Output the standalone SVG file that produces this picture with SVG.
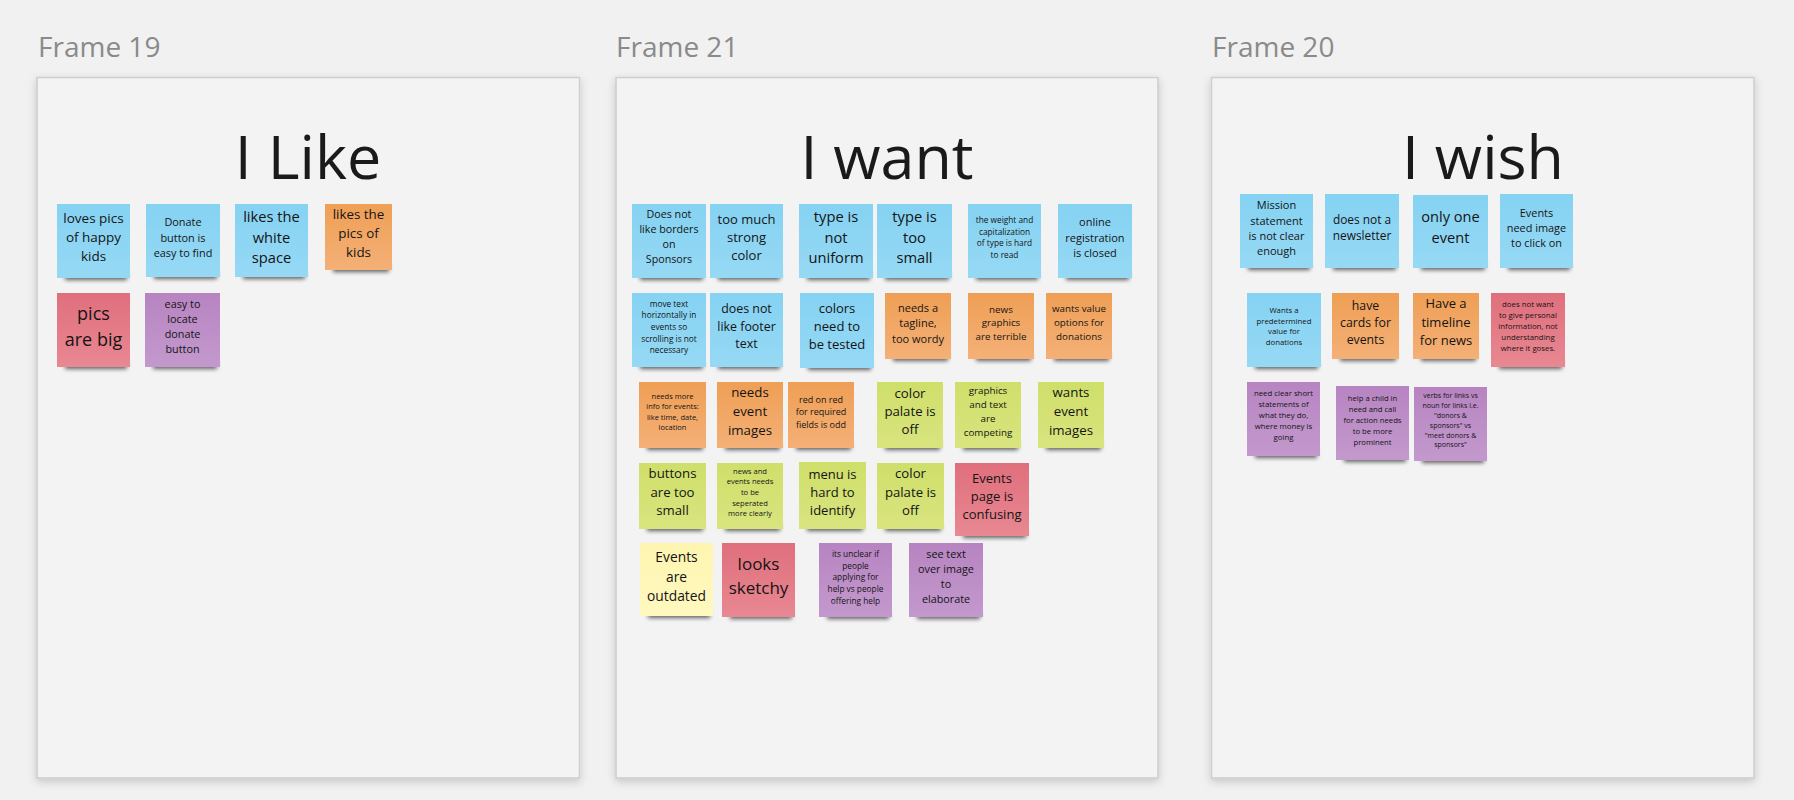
<svg xmlns="http://www.w3.org/2000/svg" width="1794" height="800" viewBox="0 0 1794 800">
<defs>
<linearGradient id="gBlue" x1="0" y1="0" x2="0" y2="1"><stop offset="0" stop-color="#85d2f2"/><stop offset="1" stop-color="#96d9f5"/></linearGradient>
<linearGradient id="gOrange" x1="0" y1="0" x2="0" y2="1"><stop offset="0" stop-color="#ef9f55"/><stop offset="1" stop-color="#f4b077"/></linearGradient>
<linearGradient id="gRed" x1="0" y1="0" x2="0" y2="1"><stop offset="0" stop-color="#e06f7d"/><stop offset="1" stop-color="#e88892"/></linearGradient>
<linearGradient id="gPurple" x1="0" y1="0" x2="0" y2="1"><stop offset="0" stop-color="#b784c1"/><stop offset="1" stop-color="#c399cd"/></linearGradient>
<linearGradient id="gGreen" x1="0" y1="0" x2="0" y2="1"><stop offset="0" stop-color="#cfdf6a"/><stop offset="1" stop-color="#d9e47f"/></linearGradient>
<linearGradient id="gYellow" x1="0" y1="0" x2="0" y2="1"><stop offset="0" stop-color="#fef5b0"/><stop offset="1" stop-color="#fff8bf"/></linearGradient>
<filter id="fShadow" x="-10%" y="-10%" width="120%" height="120%"><feDropShadow dx="0" dy="3" stdDeviation="4" flood-color="#000" flood-opacity="0.18"/></filter>
<filter id="sBlur" x="-20%" y="-100%" width="140%" height="300%"><feGaussianBlur stdDeviation="2"/></filter>
</defs>
<style>
.frame{fill:#f3f3f3;stroke:#cdcdcd;stroke-width:1.5;filter:url(#fShadow)}
.flabel{font-family:'Open Sans','Noto Sans',sans-serif;font-size:28px;fill:#8a8a8a}
.title{font-family:'Open Sans','Noto Sans',sans-serif;font-size:61px;fill:#1a1a1a;text-anchor:middle}
.sh{fill:#000;opacity:0.6;filter:url(#sBlur)}
.blue{fill:url(#gBlue)}
.orange{fill:url(#gOrange)}
.red{fill:url(#gRed)}
.purple{fill:url(#gPurple)}
.green{fill:url(#gGreen)}
.yellow{fill:url(#gYellow)}
.t{font-family:'Open Sans','Noto Sans',sans-serif;fill:#141414;text-anchor:middle;dominant-baseline:central;transform:translateY(-2px)}
.t tspan{dominant-baseline:central}
</style>
<rect x="0" y="0" width="1794" height="800" fill="#f1f1f1"/>

<g id="frame19">
<rect class="frame" x="37" y="77.5" width="542.5" height="700.5"/>
<text class="flabel" x="38" y="57">Frame 19</text>
<text class="title" x="308" y="179">I Like</text>
</g>
<g id="frame21">
<rect class="frame" x="616" y="77.5" width="542" height="700.5"/>
<text class="flabel" x="616" y="57">Frame 21</text>
<text class="title" x="887" y="179">I want</text>
</g>
<g id="frame20">
<rect class="frame" x="1211.5" y="77.5" width="542.5" height="700.5"/>
<text class="flabel" x="1212" y="57">Frame 20</text>
<text class="title" x="1483" y="179">I wish</text>
</g>

<!-- Frame 19 stickies -->
<g id="s1"><rect class="sh" x="65" y="272" width="62" height="8"/><rect class="blue" x="57" y="204" width="73" height="74"/>
<text class="t" x="93.5" y="239" font-size="13.5"><tspan x="93.5" dy="-1.4em">loves pics</tspan><tspan x="93.5" dy="1.4em">of happy</tspan><tspan x="93.5" dy="1.4em">kids</tspan></text></g>
<g id="s2"><rect class="sh" x="154" y="271" width="63" height="8"/><rect class="blue" x="146" y="204" width="74" height="73"/>
<text class="t" x="183" y="238.5" font-size="10.9"><tspan x="183" dy="-1.4em">Donate</tspan><tspan x="183" dy="1.4em">button is</tspan><tspan x="183" dy="1.4em">easy to find</tspan></text></g>
<g id="s3"><rect class="sh" x="243" y="271" width="62" height="8"/><rect class="blue" x="235" y="204" width="73" height="73"/>
<text class="t" x="271.5" y="238.5" font-size="14.7"><tspan x="271.5" dy="-1.4em">likes the</tspan><tspan x="271.5" dy="1.4em">white</tspan><tspan x="271.5" dy="1.4em">space</tspan></text></g>
<g id="s4"><rect class="sh" x="333" y="264" width="56" height="8"/><rect class="orange" x="325" y="204" width="67" height="66"/>
<text class="t" x="358.5" y="235" font-size="13.4"><tspan x="358.5" dy="-1.4em">likes the</tspan><tspan x="358.5" dy="1.4em">pics of</tspan><tspan x="358.5" dy="1.4em">kids</tspan></text></g>
<g id="s5"><rect class="sh" x="65" y="361" width="62" height="8"/><rect class="red" x="57" y="293" width="73" height="74"/>
<text class="t" x="93.5" y="328" font-size="18"><tspan x="93.5" dy="-0.7em">pics</tspan><tspan x="93.5" dy="1.4em">are big</tspan></text></g>
<g id="s6"><rect class="sh" x="153" y="361" width="64" height="8"/><rect class="purple" x="145" y="293" width="75" height="74"/>
<text class="t" x="182.5" y="327.7" font-size="10.8"><tspan x="182.5" dy="-2.1em">easy to</tspan><tspan x="182.5" dy="1.4em">locate</tspan><tspan x="182.5" dy="1.4em">donate</tspan><tspan x="182.5" dy="1.4em">button</tspan></text></g>

<!-- Frame 21 stickies -->
<g id="s7"><rect class="sh" x="640" y="272" width="63" height="8"/><rect class="blue" x="632" y="204" width="74" height="74"/>
<text class="t" x="669" y="238.5" font-size="10.7"><tspan x="669" dy="-2.1em">Does not</tspan><tspan x="669" dy="1.4em">like borders</tspan><tspan x="669" dy="1.4em">on</tspan><tspan x="669" dy="1.4em">Sponsors</tspan></text></g>
<g id="s8"><rect class="sh" x="718" y="272" width="62" height="8"/><rect class="blue" x="710" y="204" width="73" height="74"/>
<text class="t" x="746.5" y="239" font-size="13"><tspan x="746.5" dy="-1.4em">too much</tspan><tspan x="746.5" dy="1.4em">strong</tspan><tspan x="746.5" dy="1.4em">color</tspan></text></g>
<g id="s9"><rect class="sh" x="807" y="272" width="63" height="8"/><rect class="blue" x="799" y="204" width="74" height="74"/>
<text class="t" x="836" y="238.7" font-size="14.7"><tspan x="836" dy="-1.4em">type is</tspan><tspan x="836" dy="1.4em">not</tspan><tspan x="836" dy="1.4em">uniform</tspan></text></g>
<g id="s10"><rect class="sh" x="885" y="272" width="64" height="8"/><rect class="blue" x="877" y="204" width="75" height="74"/>
<text class="t" x="914.5" y="238.7" font-size="14.7"><tspan x="914.5" dy="-1.4em">type is</tspan><tspan x="914.5" dy="1.4em">too</tspan><tspan x="914.5" dy="1.4em">small</tspan></text></g>
<g id="s11"><rect class="sh" x="976" y="272" width="62" height="8"/><rect class="blue" x="968" y="204" width="73" height="74"/>
<text class="t" x="1004.5" y="238.5" font-size="8.3"><tspan x="1004.5" dy="-2.1em">the weight and</tspan><tspan x="1004.5" dy="1.4em">capitalization</tspan><tspan x="1004.5" dy="1.4em">of type is hard</tspan><tspan x="1004.5" dy="1.4em">to read</tspan></text></g>
<g id="s12"><rect class="sh" x="1066" y="272" width="63" height="8"/><rect class="blue" x="1058" y="204" width="74" height="74"/>
<text class="t" x="1095" y="238.5" font-size="11"><tspan x="1095" dy="-1.4em">online</tspan><tspan x="1095" dy="1.4em">registration</tspan><tspan x="1095" dy="1.4em">is closed</tspan></text></g>

<g id="s13"><rect class="sh" x="640" y="361" width="63" height="8"/><rect class="blue" x="632" y="293" width="74" height="74"/>
<text class="t" x="669" y="328" font-size="8.3"><tspan x="669" dy="-2.8em">move text</tspan><tspan x="669" dy="1.4em">horizontally in</tspan><tspan x="669" dy="1.4em">events so</tspan><tspan x="669" dy="1.4em">scrolling is not</tspan><tspan x="669" dy="1.4em">necessary</tspan></text></g>
<g id="s14"><rect class="sh" x="718" y="361" width="62" height="8"/><rect class="blue" x="710" y="293" width="73" height="74"/>
<text class="t" x="746.5" y="327.8" font-size="12.4"><tspan x="746.5" dy="-1.4em">does not</tspan><tspan x="746.5" dy="1.4em">like footer</tspan><tspan x="746.5" dy="1.4em">text</tspan></text></g>
<g id="s15"><rect class="sh" x="808" y="362" width="63" height="8"/><rect class="blue" x="800" y="293" width="74" height="75"/>
<text class="t" x="837" y="327.7" font-size="13"><tspan x="837" dy="-1.4em">colors</tspan><tspan x="837" dy="1.4em">need to</tspan><tspan x="837" dy="1.4em">be tested</tspan></text></g>
<g id="s16"><rect class="sh" x="893" y="353" width="55" height="8"/><rect class="orange" x="885" y="293" width="66" height="66"/>
<text class="t" x="918" y="324.3" font-size="11"><tspan x="918" dy="-1.4em">needs a</tspan><tspan x="918" dy="1.4em">tagline,</tspan><tspan x="918" dy="1.4em">too wordy</tspan></text></g>
<g id="s17"><rect class="sh" x="976" y="353" width="55" height="8"/><rect class="orange" x="968" y="293" width="66" height="66"/>
<text class="t" x="1001" y="324.3" font-size="9.8"><tspan x="1001" dy="-1.4em">news</tspan><tspan x="1001" dy="1.4em">graphics</tspan><tspan x="1001" dy="1.4em">are terrible</tspan></text></g>
<g id="s18"><rect class="sh" x="1054" y="353" width="55" height="8"/><rect class="orange" x="1046" y="293" width="66" height="66"/>
<text class="t" x="1079" y="324" font-size="9.8"><tspan x="1079" dy="-1.4em">wants value</tspan><tspan x="1079" dy="1.4em">options for</tspan><tspan x="1079" dy="1.4em">donations</tspan></text></g>

<g id="s19"><rect class="sh" x="647" y="442" width="56" height="8"/><rect class="orange" x="639" y="382" width="67" height="66"/>
<text class="t" x="672.5" y="413.5" font-size="7.5"><tspan x="672.5" dy="-2.1em">needs more</tspan><tspan x="672.5" dy="1.4em">info for events:</tspan><tspan x="672.5" dy="1.4em">like time, date,</tspan><tspan x="672.5" dy="1.4em">location</tspan></text></g>
<g id="s20"><rect class="sh" x="725" y="442" width="55" height="8"/><rect class="orange" x="717" y="382" width="66" height="66"/>
<text class="t" x="750" y="413" font-size="13.3"><tspan x="750" dy="-1.4em">needs</tspan><tspan x="750" dy="1.4em">event</tspan><tspan x="750" dy="1.4em">images</tspan></text></g>
<g id="s21"><rect class="sh" x="796" y="442" width="55" height="8"/><rect class="orange" x="788" y="382" width="66" height="66"/>
<text class="t" x="821" y="413.3" font-size="9"><tspan x="821" dy="-1.4em">red on red</tspan><tspan x="821" dy="1.4em">for required</tspan><tspan x="821" dy="1.4em">fields is odd</tspan></text></g>
<g id="s22"><rect class="sh" x="885" y="442" width="55" height="8"/><rect class="green" x="877" y="382" width="66" height="66"/>
<text class="t" x="910" y="413" font-size="13.2"><tspan x="910" dy="-1.4em">color</tspan><tspan x="910" dy="1.4em">palate is</tspan><tspan x="910" dy="1.4em">off</tspan></text></g>
<g id="s23"><rect class="sh" x="963" y="442" width="55" height="8"/><rect class="green" x="955" y="382" width="66" height="66"/>
<text class="t" x="988" y="413" font-size="9.8"><tspan x="988" dy="-2.1em">graphics</tspan><tspan x="988" dy="1.4em">and text</tspan><tspan x="988" dy="1.4em">are</tspan><tspan x="988" dy="1.4em">competing</tspan></text></g>
<g id="s24"><rect class="sh" x="1046" y="442" width="55" height="8"/><rect class="green" x="1038" y="382" width="66" height="66"/>
<text class="t" x="1071" y="413" font-size="13.3"><tspan x="1071" dy="-1.4em">wants</tspan><tspan x="1071" dy="1.4em">event</tspan><tspan x="1071" dy="1.4em">images</tspan></text></g>

<g id="s25"><rect class="sh" x="647" y="523" width="56" height="8"/><rect class="green" x="639" y="463" width="67" height="66"/>
<text class="t" x="672.5" y="493.7" font-size="13.2"><tspan x="672.5" dy="-1.4em">buttons</tspan><tspan x="672.5" dy="1.4em">are too</tspan><tspan x="672.5" dy="1.4em">small</tspan></text></g>
<g id="s26"><rect class="sh" x="725" y="523" width="55" height="8"/><rect class="green" x="717" y="463" width="66" height="66"/>
<text class="t" x="750" y="494" font-size="7.6"><tspan x="750" dy="-2.8em">news and</tspan><tspan x="750" dy="1.4em">events needs</tspan><tspan x="750" dy="1.4em">to be</tspan><tspan x="750" dy="1.4em">seperated</tspan><tspan x="750" dy="1.4em">more clearly</tspan></text></g>
<g id="s27"><rect class="sh" x="807" y="523" width="56" height="8"/><rect class="green" x="799" y="462" width="67" height="67"/>
<text class="t" x="832.5" y="493.7" font-size="13"><tspan x="832.5" dy="-1.4em">menu is</tspan><tspan x="832.5" dy="1.4em">hard to</tspan><tspan x="832.5" dy="1.4em">identify</tspan></text></g>
<g id="s28"><rect class="sh" x="885" y="523" width="56" height="8"/><rect class="green" x="877" y="463" width="67" height="66"/>
<text class="t" x="910.5" y="493.7" font-size="13.2"><tspan x="910.5" dy="-1.4em">color</tspan><tspan x="910.5" dy="1.4em">palate is</tspan><tspan x="910.5" dy="1.4em">off</tspan></text></g>
<g id="s29"><rect class="sh" x="963" y="530" width="63" height="8"/><rect class="red" x="955" y="463" width="74" height="73"/>
<text class="t" x="992" y="497.7" font-size="13"><tspan x="992" dy="-1.4em">Events</tspan><tspan x="992" dy="1.4em">page is</tspan><tspan x="992" dy="1.4em">confusing</tspan></text></g>

<g id="s30"><rect class="sh" x="648" y="610" width="62" height="8"/><rect class="yellow" x="640" y="543" width="73" height="73"/>
<text class="t" x="676.5" y="577.5" font-size="13.8"><tspan x="676.5" dy="-1.4em">Events</tspan><tspan x="676.5" dy="1.4em">are</tspan><tspan x="676.5" dy="1.4em">outdated</tspan></text></g>
<g id="s31"><rect class="sh" x="730" y="611" width="62" height="8"/><rect class="red" x="722" y="543" width="73" height="74"/>
<text class="t" x="758.5" y="577" font-size="17"><tspan x="758.5" dy="-0.7em">looks</tspan><tspan x="758.5" dy="1.4em">sketchy</tspan></text></g>
<g id="s32"><rect class="sh" x="827" y="611" width="62" height="8"/><rect class="purple" x="819" y="543" width="73" height="74"/>
<text class="t" x="855.5" y="578.3" font-size="8.3"><tspan x="855.5" dy="-2.8em">its unclear if</tspan><tspan x="855.5" dy="1.4em">people</tspan><tspan x="855.5" dy="1.4em">applying for</tspan><tspan x="855.5" dy="1.4em">help vs people</tspan><tspan x="855.5" dy="1.4em">offering help</tspan></text></g>
<g id="s33"><rect class="sh" x="917" y="611" width="63" height="8"/><rect class="purple" x="909" y="543" width="74" height="74"/>
<text class="t" x="946" y="577.7" font-size="10.8"><tspan x="946" dy="-2.1em">see text</tspan><tspan x="946" dy="1.4em">over image</tspan><tspan x="946" dy="1.4em">to</tspan><tspan x="946" dy="1.4em">elaborate</tspan></text></g>

<!-- Frame 20 stickies -->
<g id="s34"><rect class="sh" x="1248" y="262" width="62" height="8"/><rect class="blue" x="1240" y="194" width="73" height="74"/>
<text class="t" x="1276.5" y="229.3" font-size="11"><tspan x="1276.5" dy="-2.1em">Mission</tspan><tspan x="1276.5" dy="1.4em">statement</tspan><tspan x="1276.5" dy="1.4em">is not clear</tspan><tspan x="1276.5" dy="1.4em">enough</tspan></text></g>
<g id="s35"><rect class="sh" x="1333" y="262" width="63" height="8"/><rect class="blue" x="1325" y="194" width="74" height="74"/>
<text class="t" x="1362" y="229" font-size="11.9"><tspan x="1362" dy="-0.7em">does not a</tspan><tspan x="1362" dy="1.4em">newsletter</tspan></text></g>
<g id="s36"><rect class="sh" x="1421" y="262" width="64" height="8"/><rect class="blue" x="1413" y="195" width="75" height="73"/>
<text class="t" x="1450.5" y="228.3" font-size="14.6"><tspan x="1450.5" dy="-0.7em">only one</tspan><tspan x="1450.5" dy="1.4em">event</tspan></text></g>
<g id="s37"><rect class="sh" x="1508" y="262" width="62" height="8"/><rect class="blue" x="1500" y="194" width="73" height="74"/>
<text class="t" x="1536.5" y="229" font-size="10.9"><tspan x="1536.5" dy="-1.4em">Events</tspan><tspan x="1536.5" dy="1.4em">need image</tspan><tspan x="1536.5" dy="1.4em">to click on</tspan></text></g>

<g id="s38"><rect class="sh" x="1255" y="361" width="63" height="8"/><rect class="blue" x="1247" y="293" width="74" height="74"/>
<text class="t" x="1284" y="328" font-size="7.8"><tspan x="1284" dy="-2.1em">Wants a</tspan><tspan x="1284" dy="1.4em">predetermined</tspan><tspan x="1284" dy="1.4em">value for</tspan><tspan x="1284" dy="1.4em">donations</tspan></text></g>
<g id="s39"><rect class="sh" x="1340" y="353" width="56" height="8"/><rect class="orange" x="1332" y="293" width="67" height="66"/>
<text class="t" x="1365.5" y="323.8" font-size="12.3"><tspan x="1365.5" dy="-1.4em">have</tspan><tspan x="1365.5" dy="1.4em">cards for</tspan><tspan x="1365.5" dy="1.4em">events</tspan></text></g>
<g id="s40"><rect class="sh" x="1421" y="353" width="55" height="8"/><rect class="orange" x="1413" y="293" width="66" height="66"/>
<text class="t" x="1446" y="323.5" font-size="13"><tspan x="1446" dy="-1.4em">Have a</tspan><tspan x="1446" dy="1.4em">timeline</tspan><tspan x="1446" dy="1.4em">for news</tspan></text></g>
<g id="s41"><rect class="sh" x="1499" y="361" width="63" height="8"/><rect class="red" x="1491" y="293" width="74" height="74"/>
<text class="t" x="1528" y="328.3" font-size="7.8"><tspan x="1528" dy="-2.8em">does not want</tspan><tspan x="1528" dy="1.4em">to give personal</tspan><tspan x="1528" dy="1.4em">information, not</tspan><tspan x="1528" dy="1.4em">understanding</tspan><tspan x="1528" dy="1.4em">where it goses.</tspan></text></g>

<g id="s42"><rect class="sh" x="1255" y="450" width="62" height="8"/><rect class="purple" x="1247" y="382" width="73" height="74"/>
<text class="t" x="1283.5" y="417.3" font-size="7.8"><tspan x="1283.5" dy="-2.8em">need clear short</tspan><tspan x="1283.5" dy="1.4em">statements of</tspan><tspan x="1283.5" dy="1.4em">what they do,</tspan><tspan x="1283.5" dy="1.4em">where money is</tspan><tspan x="1283.5" dy="1.4em">going</tspan></text></g>
<g id="s43"><rect class="sh" x="1344" y="454" width="62" height="8"/><rect class="purple" x="1336" y="386" width="73" height="74"/>
<text class="t" x="1372.5" y="422" font-size="7.7"><tspan x="1372.5" dy="-2.8em">help a child in</tspan><tspan x="1372.5" dy="1.4em">need and call</tspan><tspan x="1372.5" dy="1.4em">for action needs</tspan><tspan x="1372.5" dy="1.4em">to be more</tspan><tspan x="1372.5" dy="1.4em">prominent</tspan></text></g>
<g id="s44"><rect class="sh" x="1422" y="455" width="62" height="8"/><rect class="purple" x="1414" y="387" width="73" height="74"/>
<text class="t" x="1450.5" y="421.8" font-size="7"><tspan x="1450.5" dy="-3.5em">verbs for links vs</tspan><tspan x="1450.5" dy="1.4em">noun for links i.e.</tspan><tspan x="1450.5" dy="1.4em">"donors &amp;</tspan><tspan x="1450.5" dy="1.4em">sponsors" vs</tspan><tspan x="1450.5" dy="1.4em">"meet donors &amp;</tspan><tspan x="1450.5" dy="1.4em">sponsors"</tspan></text></g>
</svg>
